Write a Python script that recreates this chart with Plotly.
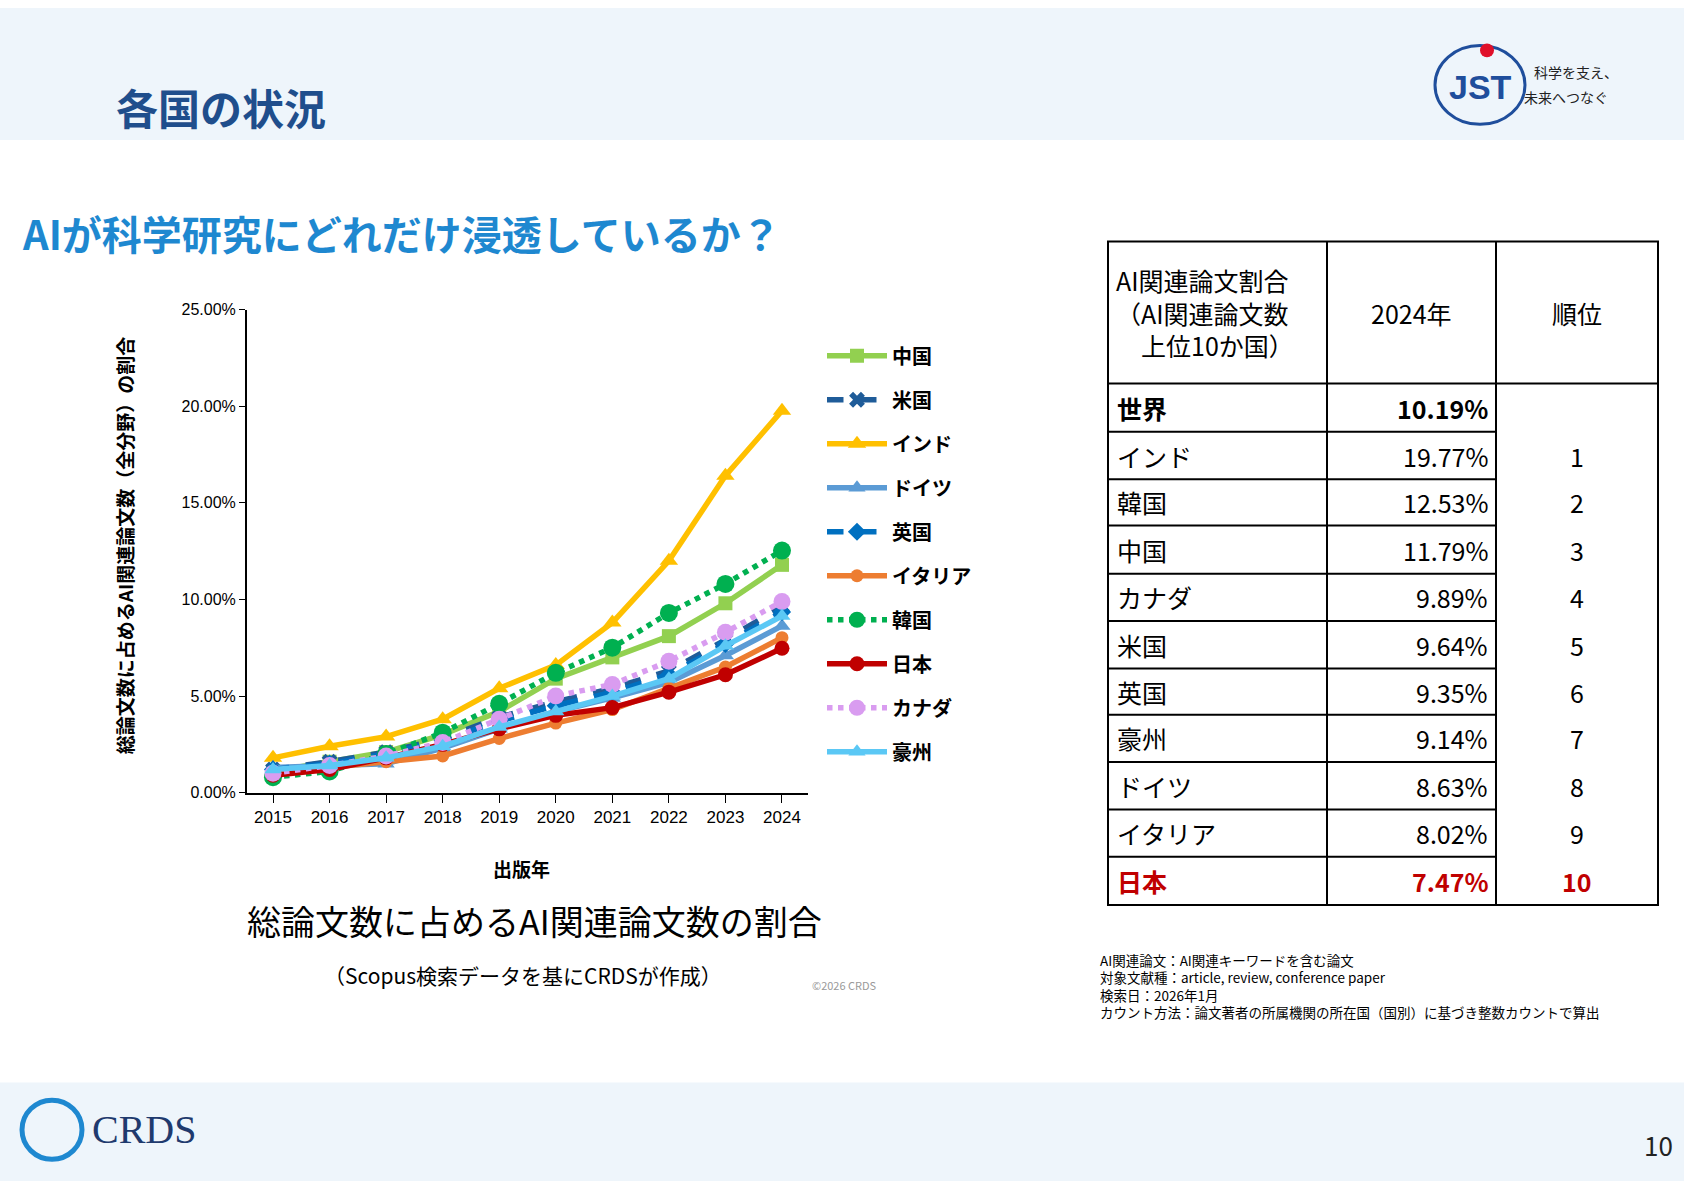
import plotly.graph_objects as go

W, H = 1684, 1190
years = [2015, 2016, 2017, 2018, 2019, 2020, 2021, 2022, 2023, 2024]
china = [1.1, 1.6, 2.1, 3.0, 4.2, 5.9, 7.0, 8.1, 9.8, 11.79]
usa = [1.2, 1.6, 2.1, 2.8, 3.9, 4.7, 5.4, 6.3, 7.9, 9.64]
india = [1.8, 2.4, 2.9, 3.8, 5.4, 6.6, 8.8, 12.0, 16.4, 19.77]
germany = [1.3, 1.4, 1.5, 2.3, 3.3, 4.2, 4.9, 5.7, 7.1, 8.63]
uk = [1.2, 1.5, 2.0, 2.7, 3.7, 4.5, 5.2, 6.1, 7.7, 9.35]
italy = [1.1, 1.3, 1.6, 1.9, 2.8, 3.6, 4.3, 5.4, 6.5, 8.02]
korea = [0.8, 1.1, 2.0, 3.1, 4.6, 6.2, 7.5, 9.3, 10.8, 12.53]
japan = [0.9, 1.2, 1.8, 2.5, 3.3, 4.0, 4.4, 5.2, 6.1, 7.47]
canada = [1.0, 1.4, 1.9, 2.6, 3.8, 5.0, 5.6, 6.8, 8.3, 9.89]
australia = [1.2, 1.4, 1.8, 2.4, 3.4, 4.2, 5.0, 5.9, 7.6, 9.14]
y_ticks = [0, 5, 10, 15, 20, 25]
y_tick_labels = ["0.00%", "5.00%", "10.00%", "15.00%", "20.00%", "25.00%"]

table_header = ["AI関連論文割合<br>（AI関連論文数<br>　上位10か国）", "2024年", "順位"]
table_countries = ["世界", "インド", "韓国", "中国", "カナダ", "米国", "英国", "豪州", "ドイツ", "イタリア", "日本"]
table_values = ["10.19%", "19.77%", "12.53%", "11.79%", "9.89%", "9.64%", "9.35%", "9.14%", "8.63%", "8.02%", "7.47%"]
table_ranks = ["", "1", "2", "3", "4", "5", "6", "7", "8", "9", "10"]

series = [
    ("中国", china, "#92D050", "solid", "square", 14),
    ("米国", usa, "#1F5C99", "dash", "x", 14),
    ("インド", india, "#FFC000", "solid", "triangle-up", 16),
    ("ドイツ", germany, "#5B9BD5", "solid", "triangle-up", 15),
    ("英国", uk, "#0070C0", "dash", "diamond", 14),
    ("イタリア", italy, "#ED7D31", "solid", "circle", 13),
    ("韓国", korea, "#00B050", "dot", "circle", 18),
    ("日本", japan, "#C00000", "solid", "circle", 15),
    ("カナダ", canada, "#D99CF0", "dot", "circle", 17),
    ("豪州", australia, "#5BC8F5", "solid", "triangle-up", 15),
]

FONT = "Noto Sans CJK JP"
fig = go.Figure()
for i, (name, vals, col, dash, sym, sz) in enumerate(series):
    fig.add_trace(go.Scatter(x=years, y=vals, name=name, mode="lines+markers", legendgroup=str(i),
                             line=dict(color=col, width=5.5, dash=dash),
                             marker=dict(color=col, symbol=sym, size=sz)))

def px(x): return x / W
def py(y): return 1 - y / H

shapes, ann = [], []
shapes.append(dict(type="rect", xref="paper", yref="paper", x0=0, x1=1, y0=py(134), y1=1,
                   fillcolor="#EEF5FB", line_width=0, layer="below"))
shapes.append(dict(type="rect", xref="paper", yref="paper", x0=0, x1=1, y0=0, y1=py(1090),
                   fillcolor="#EEF5FB", line_width=0, layer="below"))

def text(x, y, s, size, color="#000", bold=False, xa="left", ya="middle", fam=FONT, angle=0):
    if bold:
        s = "<b>" + s + "</b>"
    ann.append(dict(xref="paper", yref="paper", x=px(x), y=py(y), text=s, showarrow=False,
                    xanchor=xa, yanchor=ya, textangle=angle,
                    font=dict(size=size, color=color, family=fam)))

text(114, 100, "各国の状況", 42, "#1F4E8C", True)
text(20, 228, "AIが科学研究にどれだけ浸透しているか？", 40, "#1E88D0", True)
shapes.append(dict(type="circle", xref="paper", yref="paper", x0=px(1435), x1=px(1525),
                   y0=py(118), y1=py(38), line=dict(color="#1F4E9C", width=3)))
text(1480, 80, "JST", 34, "#1F4E9C", True, xa="center", fam="Liberation Sans")
shapes.append(dict(type="circle", xref="paper", yref="paper", x0=px(1480), x1=px(1494),
                   y0=py(50), y1=py(36), fillcolor="#E0102A", line_width=0))
text(1532, 65, "科学を支え、", 14, "#222")
text(1522, 90, "未来へつなぐ", 14, "#222")
shapes.append(dict(type="circle", xref="paper", yref="paper", x0=px(22), x1=px(82),
                   y0=py(1168), y1=py(1108), line=dict(color="#1E88D0", width=5)))
text(90, 1138, "CRDS", 40, "#1F3A6E", fam="Liberation Serif")
text(1675, 1153, "10", 26, "#222", xa="right")

text(124, 545, "総論文数に占めるAI関連論文数（全分野）の割合", 19, "#000", True, xa="center", angle=-90)
text(521, 873, "出版年", 19, "#000", True, xa="center")
text(534, 926, "総論文数に占めるAI関連論文数の割合", 34, "#000", xa="center")
text(523, 981, "（Scopus検索データを基にCRDSが作成）", 21, "#000", xa="center")
text(845, 991, "©2026 CRDS", 11, "#999", xa="center")

xs = [1108, 1327, 1496, 1658]
ys = [237, 381, 430, 478, 525, 574, 622, 670, 717, 765, 813, 861, 910]
line = dict(color="#000", width=2)
shapes.append(dict(type="rect", xref="paper", yref="paper", x0=px(xs[0]), x1=px(xs[3]),
                   y0=py(ys[-1]), y1=py(ys[0]), line=line))
for xv in xs[1:3]:
    shapes.append(dict(type="line", xref="paper", yref="paper", x0=px(xv), x1=px(xv),
                       y0=py(ys[-1]), y1=py(ys[0]), line=line))
shapes.append(dict(type="line", xref="paper", yref="paper", x0=px(xs[0]), x1=px(xs[3]),
                   y0=py(ys[1]), y1=py(ys[1]), line=line))
for yv in ys[2:-1]:
    shapes.append(dict(type="line", xref="paper", yref="paper", x0=px(xs[0]), x1=px(xs[2]),
                       y0=py(yv), y1=py(yv), line=line))
ann.append(dict(xref="paper", yref="paper", x=px(1114), y=py(309), text=table_header[0],
                showarrow=False, xanchor="left", yanchor="middle", align="left",
                font=dict(size=25, family=FONT, color="#000")))
text(1411, 309, table_header[1], 25, xa="center")
text(1577, 309, table_header[2], 25, xa="center")
for i, (c, v, r) in enumerate(zip(table_countries, table_values, table_ranks)):
    yc = (ys[i + 1] + ys[i + 2]) / 2
    col = "#C00000" if c == "日本" else "#000"
    b = c in ("世界", "日本")
    text(1115, yc, c, 25, col, b)
    text(1490, yc, v, 25, col, b, xa="right")
    if r:
        text(1577, yc, r, 25, col, b, xa="center")

notes = ["AI関連論文：AI関連キーワードを含む論文", "対象文献種：article, review, conference paper",
         "検索日：2026年1月", "カウント方法：論文著者の所属機関の所在国（国別）に基づき整数カウントで算出"]
for i, n in enumerate(notes):
    text(1098, 966 + i * 17.5, n, 13.5, "#000")

fig.update_layout(
    width=W, height=H, margin=dict(l=0, r=0, t=0, b=0),
    paper_bgcolor="white", plot_bgcolor="white",
    font=dict(family=FONT),
    shapes=shapes, annotations=ann,
    xaxis=dict(domain=[px(247), px(808)], range=[2014.54, 2024.46], tickvals=years,
               showline=True, linecolor="#000", linewidth=2, ticks="outside", ticklen=8,
               tickcolor="#000", showgrid=False, zeroline=False,
               tickfont=dict(size=17, color="#000", family="Liberation Sans")),
    yaxis=dict(domain=[py(796), py(306)], range=[0, 25], tickvals=y_ticks, ticktext=y_tick_labels,
               showline=True, linecolor="#000", linewidth=2, ticks="outside", ticklen=6,
               tickcolor="#000", showgrid=False, zeroline=False,
               tickfont=dict(size=16, color="#000", family="Liberation Sans")),
    legend=dict(x=px(822), y=py(333), xanchor="left", yanchor="top", tracegroupgap=15,
                font=dict(size=20, color="#000", family=FONT, weight="bold"),
                itemwidth=60, bgcolor="rgba(0,0,0,0)", traceorder="grouped"),
    showlegend=True,
)
fig.write_html("out.html", config={"displayModeBar": False},
               post_script="document.body.style.margin='0';document.body.style.overflow='hidden';")
